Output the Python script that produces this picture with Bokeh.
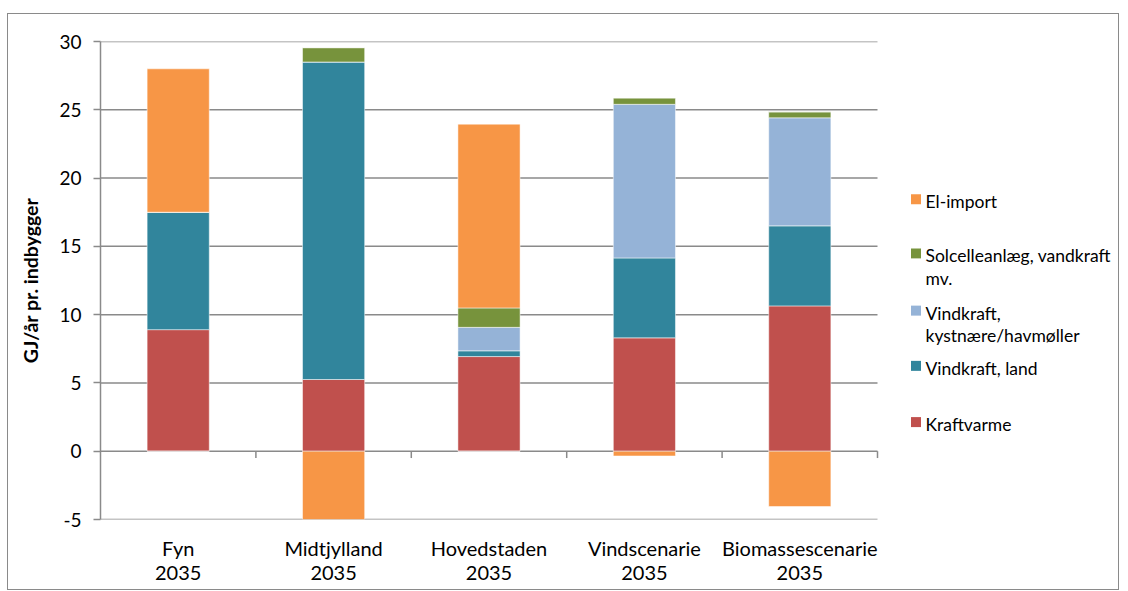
import numpy as np
from bokeh.plotting import figure
from bokeh.models import Range1d, FixedTicker
from bokeh.core.properties import value
from bokeh.embed import file_html
from bokeh.resources import INLINE

# ---- data ----
categories = ["Fyn\n2035", "Midtjylland\n2035", "Hovedstaden\n2035", "Vindscenarie\n2035", "Biomassescenarie\n2035"]
series_names = ["Kraftvarme", "Vindkraft, land", "Vindkraft,\nkystnære/havmøller", "Solcelleanlæg, vandkraft\nmv.", "El-import"]
kraftvarme = [8.9, 5.25, 6.93, 8.3, 10.64]
vind_land = [8.6, 23.25, 0.42, 5.85, 5.86]
vind_hav = [0.0, 0.0, 1.72, 11.25, 7.91]
solcelle = [0.0, 1.05, 1.42, 0.47, 0.44]
el_import = [10.5, -5.2, 13.46, -0.35, -4.05]
colors = ["#C0504D", "#31859C", "#95B3D7", "#77933C", "#F79646"]
y_ticks = [-5, 0, 5, 10, 15, 20, 25, 30]
y_tick_labels = ["-5", "0", "5", "10", "15", "20", "25", "30"]

FONT = "Lato"
GRID = "#8a8a8a"
n = len(categories)

frame_w = 1020
x_end = n * frame_w / 777

p = figure(width=1112, height=577, output_backend="svg", toolbar_location=None,
           x_range=Range1d(0, x_end), y_range=Range1d(-5, 30),
           min_border_left=92, min_border_top=27, min_border_right=0, min_border_bottom=72,
           styles={"margin-left": "7px", "margin-top": "13px", "border": "1px solid #8a8a8a"})
p.outline_line_color = None
p.background_fill_color = "white"
p.border_fill_color = "white"

p.xgrid.visible = False
p.ygrid.visible = False
p.segment(x0=0, x1=n, y0=y_ticks, y1=y_ticks, line_color=GRID, line_width=1.5)
bounds = np.arange(1, n + 1)
p.segment(x0=bounds, y0=0, x1=bounds, y1=-0.5, line_color=GRID, line_width=1.5)

xc = np.arange(n) + 0.5
series = [kraftvarme, vind_land, vind_hav, solcelle, el_import]
pos_bottom = np.zeros(n)
neg_bottom = np.zeros(n)
for vals, col in zip(series, colors):
    v = np.array(vals, dtype=float)
    vp = np.where(v > 0, v, 0)
    vn = np.where(v < 0, v, 0)
    p.vbar(x=xc, width=0.4, bottom=pos_bottom, top=pos_bottom + vp,
           fill_color=col, line_color="white", line_alpha=0.5, line_width=1)
    if np.any(vn < 0):
        p.vbar(x=xc, width=0.4, bottom=neg_bottom + vn, top=neg_bottom,
               fill_color=col, line_color="white", line_alpha=0.5, line_width=1)
    pos_bottom = pos_bottom + vp
    neg_bottom = neg_bottom + vn

# y axis
p.yaxis.ticker = FixedTicker(ticks=y_ticks)
p.yaxis.major_label_overrides = {t: l for t, l in zip(y_ticks, y_tick_labels)}
p.yaxis.axis_line_color = GRID
p.yaxis.axis_line_width = 1.5
p.yaxis.major_tick_line_color = GRID
p.yaxis.major_tick_line_width = 1.5
p.yaxis.major_tick_in = 0
p.yaxis.major_tick_out = 7
p.yaxis.minor_tick_line_color = None
p.yaxis.major_label_standoff = 12
p.yaxis.major_label_text_font = FONT
p.yaxis.major_label_text_font_size = "19px"
p.yaxis.major_label_text_color = "black"
p.yaxis.axis_label = "GJ/år pr. indbygger"
p.yaxis.axis_label_text_font = FONT
p.yaxis.axis_label_text_font_style = "bold"
p.yaxis.axis_label_text_font_size = "19.5px"
p.yaxis.axis_label_text_color = "black"
p.yaxis.axis_label_standoff = 14

# x axis (labels only)
p.xaxis.ticker = FixedTicker(ticks=list(xc))
p.xaxis.major_label_overrides = {float(x): c for x, c in zip(xc, categories)}
p.xaxis.axis_line_color = None
p.xaxis.major_tick_line_color = None
p.xaxis.minor_tick_line_color = None
p.xaxis.major_label_standoff = 10
p.xaxis.major_label_text_font = FONT
p.xaxis.major_label_text_font_size = "20px"
p.xaxis.major_label_text_color = "black"
p.xaxis.major_label_text_line_height = 1.0

# legend (drawn in the empty part of the frame)
px_per_unit_x = 777 / n
leg_y_px = np.array([199, 253, 310, 365, 421])
leg_y = (450 - leg_y_px) / 13.6
order = [4, 3, 2, 1, 0]
leg_sq_x = n + (915.5 - 877) / px_per_unit_x
leg_tx_x = n + (925 - 877) / px_per_unit_x
p.scatter(x=[leg_sq_x] * 5, y=leg_y, marker="square", size=10,
          fill_color=[colors[i] for i in order], line_color=None)
p.text(x=[leg_tx_x] * 5, y=leg_y, text=[series_names[i] for i in order],
       text_align="left", text_baseline="top", y_offset=-8,
       text_font=value(FONT), text_font_size="17.5px", text_color="black", text_line_height=1.07)

open("out.html", "w").write(file_html(p, INLINE))
